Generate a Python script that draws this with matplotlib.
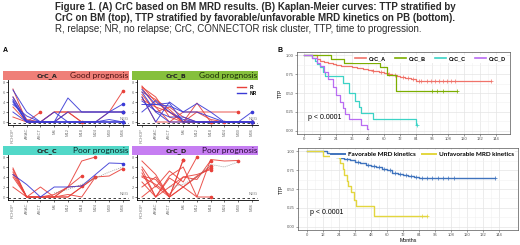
import matplotlib
matplotlib.use("Agg")
import matplotlib.pyplot as plt

W, H = 520, 245
fig = plt.figure(figsize=(5.2, 2.45), dpi=100)
plt.rcParams['font.family'] = ['Liberation Sans', 'DejaVu Sans']

def box(l, t, r, b):
    return [l / W, 1 - b / H, (r - l) / W, (b - t) / H]

def fx(x):
    return x / W

def fy(y):
    return 1 - y / H

# ---------------- data ----------------
timepoints = ["RCHOP", "ARAC", "ASCT", "M6", "M12", "M18", "M24", "M30", "M36"]

crc_a_R = [
    [6.6, 0, 0, 2, 2, 0, 0, 2, 6.2],
    [3.0, 0, 2],
    [5.0, 0.5, 0, 2, 2, 2, 2, 2, 2],
    [1.0, 0, 0, 0, 2, 0],
]
crc_a_NR = [
    [6.4, 2, 0, 0, 4.8, 2, 2, 2, 2],
    [4.2, 0, 0, 0, 0, 0, 0, 2, 3.6],
    [4.0, 0, 0, 0, 2, 2, 2, 2, 2],
    [5.0, 0.3, 0, 0, 0, 0, 0, 0, 0],
    [2.0, 0, 0, 2, 0, 0, 0, 0, 0],
    [3.5, 1.2, 0, 0, 0, 0, 0, 0.5, 0],
    [4.5, 0, 0, 0, 0, 0, 0, 0, 0],
]
crc_b_R = [
    [7.2, 4, 2, 0, 0, 0, 0, 0, 0],
    [6.8, 3, 0, 2, 2, 2, 2, 2],
    [6.0, 4.5, 2.5, 0, 3.8, 0, 0],
    [5.5, 2, 3, 1, 0, 0],
    [5.0, 0, 0, 0, 0, 0, 0, 0, 0],
    [7.0, 5, 1, 0, 2, 0.5, 0, 0, 0],
    [4.5, 3, 2, 0, 0, 0],
]
crc_b_NR = [
    [6.5, 3.5, 3.8, 0, 0, 0, 0, 0, 2],
    [3.5, 3.5, 3.2, 2, 3.7, 2, 0, 0, 0],
    [2.0, 4.3, 2, 0.5, 0, 0, 0, 0, 0],
    [5.0, 0, 4, 2, 2, 1.0, 0, 0, 0],
    [4.2, 2.2, 1, 1, 0, 0, 0, 0, 0],
    [6.0, 2, 0, 0, 0, 0, 0, 0, 0],
]
crc_c_R = [
    [5.8, 0, 0, 0, 2, 7.2, 8.0],
    [5.0, 0, 2, 0, 2, 4.2],
    [4.5, 0, 0, 0, 0, 2, 4.0, 4.2, 5.7],
    [4.0, 0, 0, 0.5, 2, 2.2],
    [2.0, 0, 0, 0, 0, 2, 4.0],
    [5.5, 0, 0, 0, 0.5, 0, 4.0],
]
crc_c_NR = [
    [4.5, 2.5, 0, 2, 2, 2.2, 4.5, 6.8, 6.7],
]
crc_c_mean = [None, None, None, 0.8, 1.5, 2.5, 3.8, 5.0, 6.0]
crc_d_R = [
    [7.2, 4.5, 0, 7.5],
    [6.0, 2, 5.2, 3, 8.0],
    [4.8, 0, 2, 4, 3.5, 7.3],
    [4.2, 3.5, 0, 2, 4.2, 5.8],
    [2.0, 4.0, 0, 2, 0, 7.5, 7.2, 7.3],
    [5.5, 0, 3.8, 2, 4, 6.2],
    [0.0, 2.2, 0, 7.4],
    [4.0, 2.5, 0.5, 4.0, 4.5, 5.5],
    [3.0, 0, 4.2, 6.0, 0, 0],
]
crc_d_NR = []
crc_d_mean = [None, None, 2.0, 2.5, 4.0, 6.5, 6.0, 7.0]

# Kaplan-Meier (top): TTP by CrC
km_a_t = [0, 10, 12, 15, 18, 22, 24, 28, 32, 36, 40, 44, 48, 52, 56, 60, 63, 66, 70, 72, 76, 80, 84, 140]
km_a_s = [1.0, 0.95, 0.92, 0.91, 0.90, 0.88, 0.87, 0.86, 0.85, 0.84, 0.83, 0.82, 0.80, 0.79, 0.78, 0.76,
          0.75, 0.74, 0.72, 0.71, 0.70, 0.68, 0.66, 0.66]
km_a_c = [52, 58, 64, 68, 74, 78, 82, 86, 88, 92, 95, 98, 101, 104, 107, 110, 113, 140]
km_b_t = [0, 20, 30, 57, 62, 69, 115]
km_b_s = [1.0, 0.95, 0.89, 0.84, 0.74, 0.53, 0.53]
km_b_c = [96, 100, 104, 115]
km_c_t = [0, 6, 8, 10, 12, 14, 16, 29, 34, 38, 41, 43, 52, 84, 85]
km_c_s = [1.0, 0.96, 0.92, 0.88, 0.84, 0.78, 0.72, 0.63, 0.50, 0.39, 0.32, 0.23, 0.16, 0.08, 0.08]
km_c_c = [85]
km_d_t = [0, 6, 10, 12, 15, 18, 22, 24, 27, 29, 31, 34, 43, 47, 48]
km_d_s = [1.0, 0.96, 0.90, 0.85, 0.78, 0.68, 0.58, 0.48, 0.38, 0.30, 0.22, 0.16, 0.08, 0.03, 0.03]
km_d_c = []

# Kaplan-Meier (bottom): TTP by MRD kinetics
km_f_t = [0, 15, 18, 20, 22, 25, 28, 32, 36, 40, 44, 48, 52, 56, 60, 64, 68, 72, 76, 80, 84, 141]
km_f_s = [1.0, 0.98, 0.96, 0.94, 0.92, 0.91, 0.89, 0.88, 0.86, 0.84, 0.82, 0.80, 0.79, 0.77, 0.75, 0.71,
          0.70, 0.68, 0.67, 0.66, 0.64, 0.64]
km_f_c = [30, 38, 46, 50, 54, 58, 62, 66, 70, 74, 78, 82, 86, 90, 94, 98, 102, 106, 110, 141]
km_u_t = [0, 12, 24, 25, 27, 28, 30, 31, 33, 35, 37, 50, 90]
km_u_s = [1.0, 0.93, 0.91, 0.84, 0.76, 0.69, 0.61, 0.54, 0.46, 0.36, 0.28, 0.14, 0.14]
km_u_c = [86, 90]

# ---------------- title ----------------
TFS = 7.05
fig.text(fx(55), fy(7), "Figure 1. (A) CrC based on BM MRD results. (B) Kaplan-Meier curves: TTP stratified by",
         fontsize=TFS, fontweight='bold', color='#2a2a2a', va='center', ha='left')
fig.text(fx(55), fy(18), "CrC on BM (top), TTP stratified by favorable/unfavorable MRD kinetics on PB (bottom).",
         fontsize=TFS, fontweight='bold', color='#2a2a2a', va='center', ha='left')
fig.text(fx(55), fy(29), "R, relapse; NR, no relapse; CrC, CONNECTOR risk cluster, TTP, time to progression.",
         fontsize=TFS, color='#2a2a2a', va='center', ha='left')
fig.text(fx(3), fy(50), "A", fontsize=5, fontweight='bold', va='center')
fig.text(fx(277), fy(50), "B", fontsize=5, fontweight='bold', va='center')

# ---------------- Panel A facets ----------------
RED = '#e8413a'
BLUE = '#3a3ad6'

def facet(l, t, name, prog, scol, tcol, R, NR, mean=None, legend=False, ylabels=True):
    r = l + 121
    sax = fig.add_axes(box(l - 5, t - 9, r, t))
    sax.set_facecolor(scol)
    sax.set_xticks([]); sax.set_yticks([])
    for s in sax.spines.values():
        s.set_visible(False)
    sax.text(0.35, 0.45, name, fontsize=4.6, fontweight='bold', color='#222222',
             ha='center', va='center', transform=sax.transAxes, family=['DejaVu Sans'])
    sax.text(0.995, 0.45, prog, fontsize=6, color=tcol, ha='right', va='center',
             transform=sax.transAxes, family=['Lato', 'DejaVu Sans'])
    ax = fig.add_axes(box(l, t, r, t + 45))
    ax.set_xlim(-0.36, 8.44)
    ax.set_ylim(-0.6, 8.4)
    for s in ['top', 'right']:
        ax.spines[s].set_visible(False)
    for s in ['left', 'bottom']:
        ax.spines[s].set_linewidth(0.6)
    ax.axhline(-0.25, color='#222222', lw=0.6, ls=(0, (3, 3)))
    ax.text(8.4, 0.15, "NEG", fontsize=3, color='#777777', ha='right', va='bottom')
    xs = list(range(len(timepoints)))
    for vals in R:
        ax.plot(xs[:len(vals)], vals, color=RED, lw=0.7, alpha=0.9)
        ax.plot(xs[len(vals) - 1], vals[-1], 'o', color=RED, ms=1.6)
    for vals in NR:
        ax.plot(xs[:len(vals)], vals, color=BLUE, lw=0.7, alpha=0.9)
        ax.plot(xs[len(vals) - 1], vals[-1], 'o', color=BLUE, ms=1.6)
    if mean is not None:
        mx = [x for x, v in zip(xs, mean) if v is not None]
        mv = [v for v in mean if v is not None]
        ax.plot(mx, mv, color='#888888', lw=0.6, ls=(0, (1, 1.5)))
    ax.set_xticks(xs)
    ax.set_xticklabels(timepoints, rotation=90, fontsize=3, color='#777777')
    ax.set_yticks([0, 2, 4, 6, 8])
    if ylabels:
        ax.set_yticklabels(['0', '2', '4', '6', '8'], fontsize=3, color='#777777')
    else:
        ax.set_yticklabels([])
    ax.tick_params(length=1.2, width=0.4, pad=0.8)
    if legend:
        ax.plot([6.9, 7.6], [7.0, 7.0], color=RED, lw=1)
        ax.plot([6.9, 7.6], [5.8, 5.8], color=BLUE, lw=1)
        ax.text(7.8, 7.0, "R", fontsize=3.5, fontweight='bold', va='center')
        ax.text(7.8, 5.8, "NR", fontsize=3.5, fontweight='bold', va='center')
    return ax

facet(8, 80, "CrC_A", "Good prognosis", '#ef7f78', '#4a1010', crc_a_R, crc_a_NR)
facet(137, 80, "CrC_B", "Good prognosis", '#86c03c', '#1a2a05', crc_b_R, crc_b_NR, legend=True)
facet(8, 155, "CrC_C", "Poor prognosis", '#52d8c8', '#0a2a2a', crc_c_R, crc_c_NR, mean=crc_c_mean)
facet(137, 155, "CrC_D", "Poor prognosis", '#c67ef2', '#2a0a3a', crc_d_R, crc_d_NR, mean=crc_d_mean)

# ---------------- Panel B KM ----------------
def km_axes(l, t, r, b, x0px, x144px):
    ax = fig.add_axes(box(l, t, r, b))
    per = (x144px - x0px) / 144.0
    ax.set_xlim(-(x0px - l) / per, (r - x0px) / per)
    ax.set_ylim(-0.04, 1.04)
    ax.set_xticks(range(0, 145, 12))
    ax.set_xticks(range(6, 150, 12), minor=True)
    ax.set_yticks([0, 0.25, 0.5, 0.75, 1.0])
    ax.set_yticks([0.125, 0.375, 0.625, 0.875], minor=True)
    ax.set_yticklabels(['0.00', '0.25', '0.50', '0.75', '1.00'], fontsize=3, color='#555555')
    ax.set_xticklabels([str(v) for v in range(0, 145, 12)], fontsize=3, color='#555555')
    ax.grid(which='major', color='#e4e4e4', lw=0.5)
    ax.grid(which='minor', color='#f1f1f1', lw=0.4)
    ax.set_axisbelow(True)
    ax.tick_params(length=1.2, width=0.4, pad=1, colors='#555555', which='major')
    ax.tick_params(which='minor', length=0)
    for s in ax.spines.values():
        s.set_color('#555555'); s.set_linewidth(0.5)
    ax.set_ylabel("TTP", fontsize=3.6, labelpad=2)
    return ax

def km_curve(ax, t, s, c, col, lw=0.9):
    ax.step(t, s, where='post', color=col, lw=lw)
    cs = []
    for ct in c:
        v = s[0]
        for ti, si in zip(t, s):
            if ti <= ct:
                v = si
        cs.append(v)
    ax.plot(c, cs, '+', color=col, ms=2.2, mew=0.5)

COL_A, COL_B, COL_C, COL_D = '#f0736a', '#7cae00', '#3cd3c6', '#b96cf2'
ax1 = km_axes(297, 52, 510, 134, 304, 496)
km_curve(ax1, km_a_t, km_a_s, km_a_c, COL_A)
km_curve(ax1, km_b_t, km_b_s, km_b_c, COL_B)
km_curve(ax1, km_c_t, km_c_s, km_c_c, COL_C)
km_curve(ax1, km_d_t, km_d_s, km_d_c, COL_D)
ax1.text(3, 0.18, "p < 0.0001", fontsize=5, va='center')
leg1 = ax1.legend([plt.Line2D([], [], color=cc, lw=1.2) for cc in [COL_A, COL_B, COL_C, COL_D]],
                  ["CrC_A", "CrC_B", "CrC_C", "CrC_D"], loc='upper right', ncol=4, fontsize=4,
                  frameon=True, framealpha=1, edgecolor='none', handlelength=2.0, columnspacing=1.6,
                  handletextpad=0.5, borderpad=0.3, bbox_to_anchor=(1.0, 1.0))
for tx in leg1.get_texts():
    tx.set_fontweight('bold')

COL_F, COL_U = '#3f73bd', '#e3d63e'
ax2 = km_axes(298, 148, 518, 230, 307, 499)
km_curve(ax2, km_f_t, km_f_s, km_f_c, COL_F, lw=1.0)
km_curve(ax2, km_u_t, km_u_s, km_u_c, COL_U, lw=1.0)
ax2.text(2.5, 0.19, "p < 0.0001", fontsize=5, va='center')
ax2.set_xlabel("Months", fontsize=3.8, labelpad=1)
leg2 = ax2.legend([plt.Line2D([], [], color=cc, lw=1.4) for cc in [COL_F, COL_U]],
                  ["Favorable MRD kinetics", "Unfavorable MRD kinetics"], loc='upper right', ncol=2,
                  prop={'family': ['Lato', 'DejaVu Sans'], 'weight': 'bold', 'size': 4.6},
                  frameon=True, framealpha=1, edgecolor='none', handlelength=2.2,
                  columnspacing=1.0, handletextpad=0.4, borderpad=0.2, bbox_to_anchor=(1.0, 1.01))

fig.savefig("out.png", dpi=100)
